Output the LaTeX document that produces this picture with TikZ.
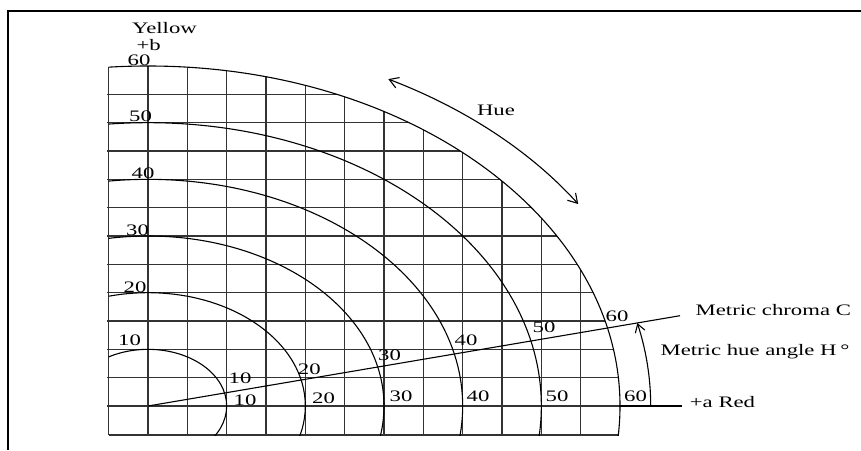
\documentclass[tikz,border=0pt]{standalone}
\usepackage{fontspec}
\setmainfont{Liberation Serif}
\usetikzlibrary{arrows.meta}
\begin{document}
\begin{tikzpicture}[x=1pt,y=1pt,
  lbl/.style={font=\fontsize{16}{18}\selectfont, xscale=1.42, anchor=base, inner sep=0pt},
  gridln/.style={line width=1.4pt, black!80},
  arcln/.style={line width=1.1pt, black},
  barbtip/.style={-{Straight Barb[length=8pt,width=10pt]}},
  dbarb/.style={{Straight Barb[length=9pt,width=11pt]}-{Straight Barb[length=9pt,width=11pt]}}]
\useasboundingbox (0,0) rectangle (861,-450);
% frame
\coordinate (F1) at (861,-11);
\coordinate (F2) at (8,-11);
\coordinate (F3) at (8,-450);
\draw[line width=2pt] (F1) -- (F2) -- (F3);
\coordinate (O) at (148,-406);
% grid clipped by outer ellipse
\begin{scope}
\clip (O) ellipse [x radius=472pt, y radius=340pt];
\clip (107,-435.8) rectangle (700,0);
\foreach \i in {-1,...,11} \draw[gridln] ({148+\i*39.333},-435) -- ({148+\i*39.333},-40);
\foreach \j in {0,...,11} \draw[gridln] (100,{-406+\j*28.333}) -- (700,{-406+\j*28.333});
\draw[gridln] (108.667,-435) -- (700,-435);
\end{scope}
% chroma ellipses
\begin{scope}
\clip (108.667,-435) rectangle (700,0);
\foreach \k in {1,...,6} \draw[arcln] (O) ellipse [x radius={\k*78.667pt}, y radius={\k*56.667pt}];
\end{scope}
% chroma line and axis extension
\coordinate (CE) at (680,-315.7);
\coordinate (AS) at (619,-406);
\coordinate (AE) at (681.7,-406);
\draw[arcln] (O) -- (CE);
\draw[arcln] (AS) -- (AE);
% hue angle arc
\coordinate (A0) at (650.7,-406);
\draw[arcln, barbtip] (A0) arc [start angle=0, end angle=13.25, x radius=502.7pt, y radius=362pt];
% hue arrow
\coordinate (H1) at (388.3,-79.1);
\draw[arcln, dbarb] (H1) arc [start angle=62.1, end angle=33.1, x radius=513.6pt, y radius=370pt];
% labels
\node[lbl] (yel) at (164.5,-33.3) {Yellow};
\node[lbl] (pb) at (148.7,-50.5) {+b};
\node[lbl] (l60) at (139,-65.7) {60};
\node[lbl] (l50) at (140.5,-121.7) {50};
\node[lbl] (l40) at (143,-178.3) {40};
\node[lbl] (l30) at (137.5,-235.7) {30};
\node[lbl] (l20) at (135,-292) {20};
\node[lbl] (l10) at (129.5,-345) {10};
\node[lbl] (u10) at (240,-383.3) {10};
\node[lbl] (u20) at (309.3,-374) {20};
\node[lbl] (u30) at (389.5,-360) {30};
\node[lbl] (u40) at (466,-345) {40};
\node[lbl] (u50) at (544,-332.3) {50};
\node[lbl] (u60) at (617,-321.7) {60};
\node[lbl] (b10) at (245,-405) {10};
\node[lbl] (b20) at (323.5,-403.3) {20};
\node[lbl] (b30) at (401,-401.7) {30};
\node[lbl] (b40) at (478,-401.7) {40};
\node[lbl] (b50) at (557,-401.7) {50};
\node[lbl] (b60) at (635.5,-401.7) {60};
\node[lbl] (hue) at (496,-115) {Hue};
\node[lbl] (mc) at (773.3,-315.7) {Metric chroma C};
\node[lbl] (mh) at (755,-355) {Metric hue angle H\,°};
\node[lbl] (red) at (722.5,-407.5) {+a Red};
\end{tikzpicture}
\end{document}
